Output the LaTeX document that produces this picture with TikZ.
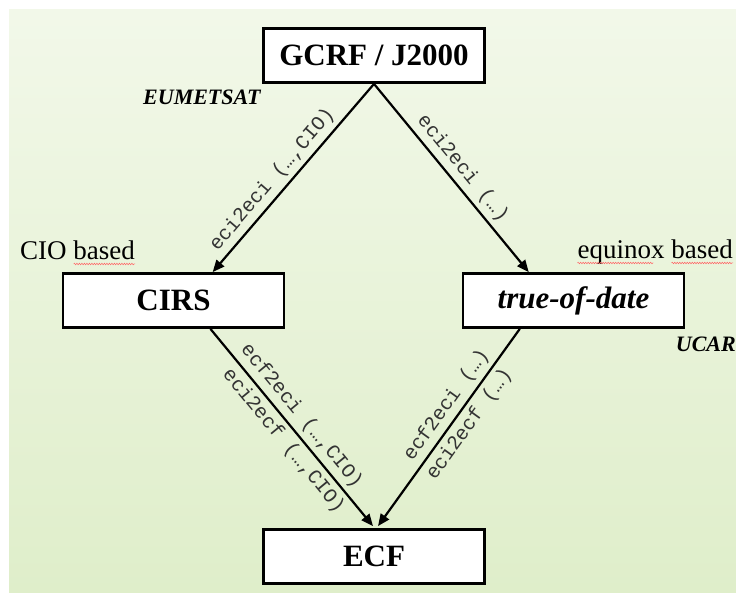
\documentclass[tikz,border=0pt]{standalone}
\usepackage{fontspec}
\setmainfont{Liberation Serif}
\newfontfamily\codefont{Liberation Mono}
\usepackage{xcolor}
\usepackage{tikz}
\usetikzlibrary{arrows.meta,positioning,calc,decorations.pathmorphing}

\definecolor{bgtop}{HTML}{F2F8E9}
\definecolor{bgbottom}{HTML}{DFEECA}

\begin{document}
\begin{tikzpicture}[
    x=1pt, y=1pt,
    frame/.style={rectangle, draw, line width=2.8pt, fill=white,
                  minimum width=221pt, minimum height=54pt, inner sep=0pt,
                  font=\fontsize{31}{36}\selectfont\bfseries},
    note/.style={font=\fontsize{27}{32}\selectfont, inner sep=0pt},
    agency/.style={font=\fontsize{22}{26}\selectfont\bfseries\itshape, inner sep=0pt},
    call/.style={font=\fontsize{20}{23}\selectfont\codefont, text=black!80,
                 sloped, inner sep=4.5pt},
    arr/.style={-{Triangle[length=12pt,width=10pt]}, line width=2.2pt},
    spell/.style={red!60, line width=0.5pt, decorate,
                  decoration={snake, amplitude=0.8pt, segment length=2.5pt}},
]
% Background
\shade[top color=bgtop, bottom color=bgbottom] (9,0) rectangle (736,582);
\useasboundingbox (0,0) rectangle (736,592);

% Frames
\node[frame] (gcrf) at (374,536.5) {GCRF / J2000};
\node[frame] (cirs) at (173.5,291.5) {CIRS};
\node[frame] (tod)  at (573.5,291.5) {\itshape true-of-date};
\node[frame] (ecf)  at (374,35.5) {ECF};

% Notes
\node[note, anchor=base west]   (cio)     at (20,332)  {CIO based};
\node[note, anchor=base east]   (equinox) at (733,333) {equinox based};
\node[agency, anchor=base west] (eum)     at (143,487) {EUMETSAT};
\node[agency, anchor=base east] (ucar)    at (736,240) {UCAR};
\draw[spell] ($(cio.base east)+(-61.5,-4)$) -- ($(cio.base east)+(0,-4)$);
\draw[spell] ($(equinox.base east)+(-61.5,-4)$) -- ($(equinox.base east)+(0,-4)$);
\draw[spell] ($(equinox.base west)+(0,-4)$) -- ($(equinox.base west)+(76,-4)$);

% Transformations
\draw[arr] (gcrf.south) -- node[call, above, pos=0.56] {eci2eci (…,CIO)}
    ($(cirs.north)!0.35!(cirs.north east)$);
\draw[arr] (gcrf.south) -- node[call, above, pos=0.5] {eci2eci (…)}
    ($(tod.north)!0.4!(tod.north west)$);
\draw[arr] ($(cirs.south)!0.33!(cirs.south east)$) --
    node[call, above, pos=0.49] {ecf2eci (…,CIO)}
    node[call, below, pos=0.52] {eci2ecf (…,CIO)}
    ($(ecf.north)+(-1,2)$);
\draw[arr] ($(tod.south)!0.48!(tod.south west)$) --
    node[call, above, pos=0.43] {ecf2eci (…)}
    node[call, below, pos=0.44] {eci2ecf (…)}
    ($(ecf.north)+(4,2)$);
\end{tikzpicture}
\end{document}
